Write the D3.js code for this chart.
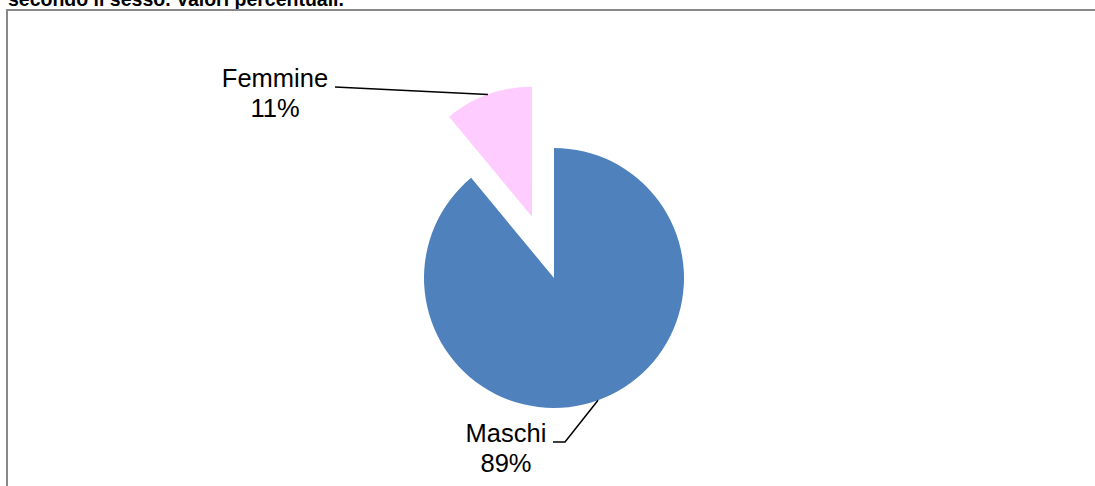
<!DOCTYPE html>
<html>
<head>
<meta charset="utf-8">
<script src="https://cdn.jsdelivr.net/npm/d3@7"></script>
<style>
  body { margin: 0; background: #fff; }
  svg { display: block; font-family: "Liberation Sans", Arial, sans-serif; }
</style>
</head>
<body>
<svg id="pie-svg" width="1095" height="486"></svg>
<script>
// data
const categories = ["Maschi", "Femmine"];
const percentages = [89, 11];
const sliceColors = ["#4F81BD", "#FFCCFF"];
const titleText = "secondo il sesso. Valori percentuali.";

const size = { width: 1095, height: 486 };
const center = { x: 554, y: 278 };
const radius = 130;
const explode = 65; // Femmine slice pulled out

const svg = d3.select("#pie-svg");

// title (top line is cut off in the original)
svg.append("text")
  .attr("x", 8)
  .attr("y", 6)
  .style("font-size", "19.5px")
  .style("font-weight", "bold")
  .text(titleText);

// chart frame
svg.append("rect")
  .attr("x", 7)
  .attr("y", 10)
  .attr("width", size.width + 20)
  .attr("height", size.height + 20)
  .style("fill", "none")
  .style("stroke", "#898989")
  .style("stroke-width", 2);

const pieData = categories.map((c, i) => ({ name: c, value: percentages[i], color: sliceColors[i] }));

const pie = d3.pie()
  .sort(null)
  .value(d => d.value);

const arc = d3.arc()
  .innerRadius(0)
  .outerRadius(radius);

const arcs = pie(pieData);

// offset of each slice (only Femmine is exploded)
function offset(d) {
  if (d.data.name !== "Femmine") return [0, 0];
  const a = (d.startAngle + d.endAngle) / 2;
  return [explode * Math.sin(a), -explode * Math.cos(a)];
}

const g = svg.append("g")
  .attr("transform", `translate(${center.x},${center.y})`);

g.selectAll("path.slice")
  .data(arcs)
  .join("path")
  .attr("class", "slice")
  .attr("d", arc)
  .attr("transform", d => `translate(${offset(d)})`)
  .style("fill", d => d.data.color);

// labels + leader lines
const labelPos = {
  Maschi: { x: 506, y: 442, line: [[553, 442], [565, 442]] },
  Femmine: { x: 275, y: 87, line: [[335, 87]] }
};

arcs.forEach(d => {
  const a = (d.startAngle + d.endAngle) / 2;
  const o = offset(d);
  const edge = [center.x + o[0] + radius * Math.sin(a), center.y + o[1] - radius * Math.cos(a)];
  const lp = labelPos[d.data.name];

  svg.append("path")
    .attr("d", d3.line()(lp.line.concat([edge])))
    .style("fill", "none")
    .style("stroke", "#000")
    .style("stroke-width", 1.5);

  const t = svg.append("text")
    .attr("text-anchor", "middle")
    .style("font-size", "25.5px")
    .style("fill", "#000");
  t.append("tspan").attr("x", lp.x).attr("y", lp.y).text(d.data.name);
  t.append("tspan").attr("x", lp.x).attr("y", lp.y + 30).text(d.data.value + "%");
});
</script>
</body>
</html>
